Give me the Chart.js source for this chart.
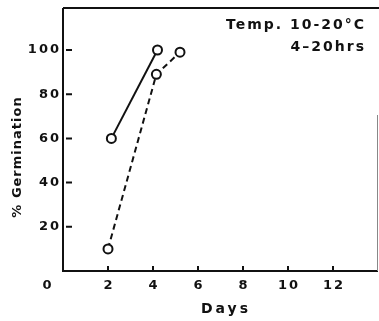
<!DOCTYPE html>
<html>
<head>
<meta charset="utf-8">
<script src="https://cdn.jsdelivr.net/npm/chart.js@4"></script>
<style>
  html, body { margin: 0; padding: 0; background: #fff; }
  #wrap { width: 379px; height: 321px; }
</style>
</head>
<body>
<div id="wrap"><canvas id="chart" width="379" height="321"></canvas></div>
<script>
    // data
    const solidDays = [2.15, 4.2];
    const solidGerm = [60, 100];
    const dashedDays = [2.0, 4.15, 5.2];
    const dashedGerm = [10, 89, 99];
    const xTicks = [0, 2, 4, 6, 8, 10, 12];
    const yTicks = [20, 40, 60, 80, 100];

    const font = 'bold 13px "DejaVu Sans"';

    function toPoints(xs, ys) {
        return xs.map(function (x, i) { return { x: x, y: ys[i] }; });
    }

    // inner tick marks, frame and free text
    const decor = {
        id: 'decor',
        afterDraw: function (chart) {
            const c = chart.ctx;
            const xs = chart.scales.x;
            const ys = chart.scales.y;
            const a = chart.chartArea;
            c.save();
            c.strokeStyle = '#111';
            c.lineWidth = 2;
            c.beginPath();
            c.moveTo(a.left, a.top);
            c.lineTo(a.left, a.bottom);
            c.lineTo(a.right, a.bottom);
            c.moveTo(a.left, a.top);
            c.lineTo(a.right + 1, a.top);
            c.stroke();
            c.strokeStyle = '#888';
            c.lineWidth = 1;
            c.beginPath();
            c.moveTo(a.right - 0.5, 115);
            c.lineTo(a.right - 0.5, a.bottom);
            c.stroke();

            c.strokeStyle = '#111';
            c.lineWidth = 2;
            c.beginPath();
            xTicks.forEach(function (v) {
                if (v === 0) return;
                const px = xs.getPixelForValue(v);
                c.moveTo(px, a.bottom);
                c.lineTo(px, a.bottom - 5);
            });
            yTicks.forEach(function (v) {
                const py = ys.getPixelForValue(v);
                c.moveTo(a.left + 3, py);
                c.lineTo(a.left + 9, py);
            });
            c.stroke();

            c.fillStyle = '#111';
            c.font = font;
            c.letterSpacing = '2px';
            c.textBaseline = 'middle';
            c.textAlign = 'right';
            yTicks.forEach(function (v) {
                c.fillText(String(v), a.left - 2, ys.getPixelForValue(v));
            });
            c.textAlign = 'center';
            xTicks.forEach(function (v) {
                const px = v === 0 ? xs.getPixelForValue(0) - 16 : xs.getPixelForValue(v);
                c.fillText(String(v), px + 1, 286);
            });
            c.font = 'bold 14px "DejaVu Sans"';
            c.letterSpacing = '3px';
            c.fillText('Days', 226, 309);

            c.letterSpacing = '2px';
            c.textAlign = 'right';
            c.fillText('Temp. 10-20\u00b0C', 366, 25);
            c.fillText('4\u201320hrs', 366, 47);

            c.font = font;
            c.letterSpacing = '1px';
            c.translate(18, 157);
            c.rotate(-Math.PI / 2);
            c.textAlign = 'center';
            c.fillText('% Germination', 0, 0);
            c.restore();
        }
    };

    const lineStyle = {
        borderColor: '#111',
        borderWidth: 2,
        pointRadius: 4.5,
        pointBorderWidth: 2,
        pointBackgroundColor: '#fff',
        pointBorderColor: '#111',
        fill: false,
        tension: 0
    };

    new Chart(document.getElementById('chart'), {
        type: 'scatter',
        data: {
            datasets: [
                Object.assign({ data: toPoints(solidDays, solidGerm), showLine: true }, lineStyle),
                Object.assign({ data: toPoints(dashedDays, dashedGerm), showLine: true, borderDash: [6, 4] }, lineStyle)
            ]
        },
        options: {
            responsive: false,
            animation: false,
            layout: { autoPadding: false, padding: { top: 8, right: 1, left: 0, bottom: 0 } },
            plugins: {
                legend: { display: false },
                tooltip: { enabled: false }
            },
            scales: {
                x: {
                    type: 'linear',
                    min: 0,
                    max: 14,
                    grid: { display: false },
                    border: { display: false },
                    ticks: { display: false },
                    afterFit: function (s) { s.height = 50; }
                },
                y: {
                    min: 0,
                    max: 119,
                    grid: { display: false },
                    border: { display: false },
                    ticks: { display: false },
                    afterFit: function (s) { s.width = 63; }
                }
            }
        },
        plugins: [decor]
    });
</script>
</body>
</html>
